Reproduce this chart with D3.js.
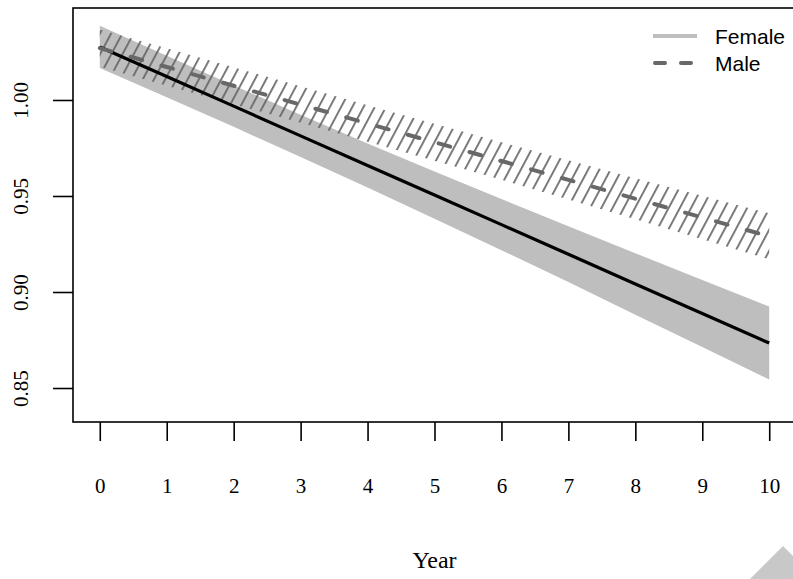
<!DOCTYPE html>
<html>
<head>
<meta charset="utf-8">
<script src="https://cdn.jsdelivr.net/npm/d3@7"></script>
<style>
  html, body { margin: 0; padding: 0; background: #fff; }
  svg { display: block; }
</style>
</head>
<body>
<svg id="chart" width="793" height="579"></svg>
<script>
const years = [0, 1, 2, 3, 4, 5, 6, 7, 8, 9, 10];
const femaleFit   = [1.0276, 1.0122, 0.9968, 0.9813, 0.9659, 0.9505, 0.9351, 0.9197, 0.9042, 0.8888, 0.8734];
const femaleLower = [1.0166, 1.0014, 0.9860, 0.9703, 0.9544, 0.9382, 0.9218, 0.9052, 0.8882, 0.8713, 0.8544];
const femaleUpper = [1.0386, 1.0230, 1.0076, 0.9923, 0.9774, 0.9628, 0.9484, 0.9342, 0.9202, 0.9063, 0.8924];
const maleFit     = [1.0270, 1.0172, 1.0074, 0.9976, 0.9878, 0.9780, 0.9682, 0.9584, 0.9486, 0.9388, 0.9290];
const maleLower   = [1.0173, 1.0074, 0.9978, 0.9881, 0.9783, 0.9684, 0.9584, 0.9482, 0.9379, 0.9275, 0.9170];
const maleUpper   = [1.0367, 1.0270, 1.0170, 1.0071, 0.9973, 0.9876, 0.9780, 0.9686, 0.9593, 0.9501, 0.9410];
const xTicks = [0, 1, 2, 3, 4, 5, 6, 7, 8, 9, 10];
const yTicks = [0.85, 0.90, 0.95, 1.00];
const legendLabels = ["Female", "Male"];
const xTitle = "Year";

(function () {
const svg = d3.select("#chart");
const mLeft = 73, mRight = 796, mTop = 8, mBottom = 422;

const x = d3.scaleLinear().domain([-0.4, 10.4]).range([mLeft, mRight]);
const y = d3.scaleLinear().domain([0.8323, 1.0479]).range([mBottom, mTop]);

const defs = svg.append("defs");
const pat = defs.append("pattern")
  .attr("id", "hatch")
  .attr("patternUnits", "userSpaceOnUse")
  .attr("width", 9.9).attr("height", 20)
  .attr("patternTransform", "rotate(28)");
pat.append("line")
  .attr("x1", 4.9).attr("y1", -2).attr("x2", 4.9).attr("y2", 22)
  .attr("stroke", "#646464").attr("stroke-width", 1.7);

const idx = d3.range(years.length);
const area = (lo, hi) => d3.area()
  .x(i => x(years[i]))
  .y0(i => y(lo[i]))
  .y1(i => y(hi[i]));
const line = (vals) => d3.line()
  .x(i => x(years[i]))
  .y(i => y(vals[i]));

svg.append("path").attr("d", area(femaleLower, femaleUpper)(idx))
  .attr("fill", "#bebebe");
svg.append("path").attr("d", area(maleLower, maleUpper)(idx))
  .attr("fill", "url(#hatch)");
svg.append("path").attr("d", line(femaleFit)(idx))
  .attr("fill", "none").attr("stroke", "#000").attr("stroke-width", 3.2);
svg.append("path").attr("d", line(maleFit)(idx))
  .attr("fill", "none").attr("stroke", "#686868").attr("stroke-width", 4)
  .attr("stroke-dasharray", "12,20").attr("stroke-linecap", "round");

svg.append("rect")
  .attr("x", mLeft).attr("y", mTop)
  .attr("width", mRight - mLeft).attr("height", mBottom - mTop)
  .attr("fill", "none").attr("stroke", "#000").attr("stroke-width", 1.6);

const xAxis = svg.append("g").attr("transform", `translate(0,${mBottom})`)
  .call(d3.axisBottom(x).tickValues(xTicks).tickSize(19).tickSizeOuter(0).tickPadding(0).tickFormat(d3.format("d")));
xAxis.select(".domain").remove();
xAxis.selectAll(".tick line").attr("stroke", "#000").attr("stroke-width", 1.6);
xAxis.selectAll(".tick text")
  .attr("y", 71).attr("dy", 0)
  .attr("font-family", "'Liberation Serif', 'Times New Roman', serif")
  .attr("font-size", 21).attr("fill", "#000");

const yAxis = svg.append("g").attr("transform", `translate(${mLeft},0)`)
  .call(d3.axisLeft(y).tickValues(yTicks).tickSize(20).tickSizeOuter(0).tickFormat(d3.format(".2f")));
yAxis.select(".domain").remove();
yAxis.selectAll(".tick line").attr("stroke", "#000").attr("stroke-width", 1.6);
yAxis.selectAll(".tick text")
  .attr("x", 0).attr("dy", 0)
  .attr("transform", "translate(-52,0) rotate(-90)")
  .attr("text-anchor", "middle").attr("dominant-baseline", "central")
  .attr("font-family", "'Liberation Serif', 'Times New Roman', serif")
  .attr("font-size", 21).attr("fill", "#000");

svg.append("text").attr("x", x(5)).attr("y", 568)
  .attr("text-anchor", "middle")
  .attr("font-family", "'Liberation Serif', 'Times New Roman', serif")
  .attr("font-size", 24).attr("fill", "#000")
  .text(xTitle);

const lg = svg.append("g");
const legendStyles = [
  { stroke: "#bebebe", dash: null, cap: "butt" },
  { stroke: "#686868", dash: "10,16", cap: "round" }
];
legendLabels.forEach((lab, i) => {
  const ly = 36 + i * 27;
  lg.append("line").attr("x1", 653 + (i ? 2 : 0)).attr("x2", 697).attr("y1", ly).attr("y2", ly)
    .attr("stroke", legendStyles[i].stroke).attr("stroke-width", 4)
    .attr("stroke-linecap", legendStyles[i].cap)
    .attr("stroke-dasharray", legendStyles[i].dash);
  lg.append("text").attr("x", 715).attr("y", ly)
    .attr("dominant-baseline", "central")
    .attr("font-family", "'Liberation Sans', Arial, sans-serif")
    .attr("font-size", 21).attr("fill", "#000")
    .text(lab);
});

svg.append("path")
  .attr("d", d3.line()([[750, 579], [783, 546], [816, 579]]))
  .attr("fill", "#c8c8c8");
})();
</script>
</body>
</html>
